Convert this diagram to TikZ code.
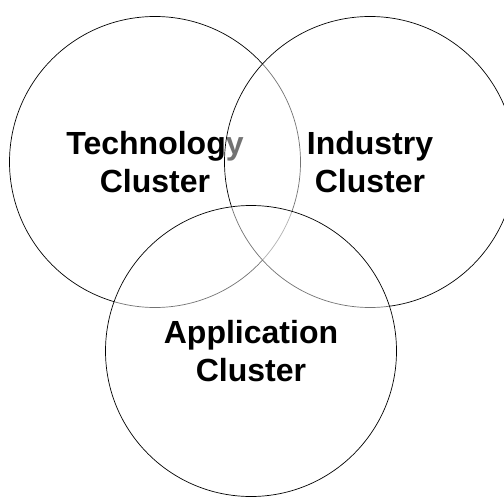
\documentclass[tikz,border=0pt]{standalone}
\usepackage{fontspec}
\setmainfont{Liberation Sans}
\begin{document}
\begin{tikzpicture}[x=1bp,y=-1bp,
  cluster/.style={draw=black, line width=0.7bp, circle, minimum size=291bp, inner sep=0pt,
    fill=white, fill opacity=0.45, text opacity=1, align=center,
    font=\fontsize{32bp}{38bp}\selectfont\bfseries}]
\useasboundingbox (0,0) rectangle (504,498);
\node[cluster] (tech) at (155,162) {Technology\\Cluster};
\node[cluster] (ind) at (370,162) {Industry\\Cluster};
\node[cluster] (app) at (251,351) {Application\\Cluster};
\end{tikzpicture}
\end{document}
